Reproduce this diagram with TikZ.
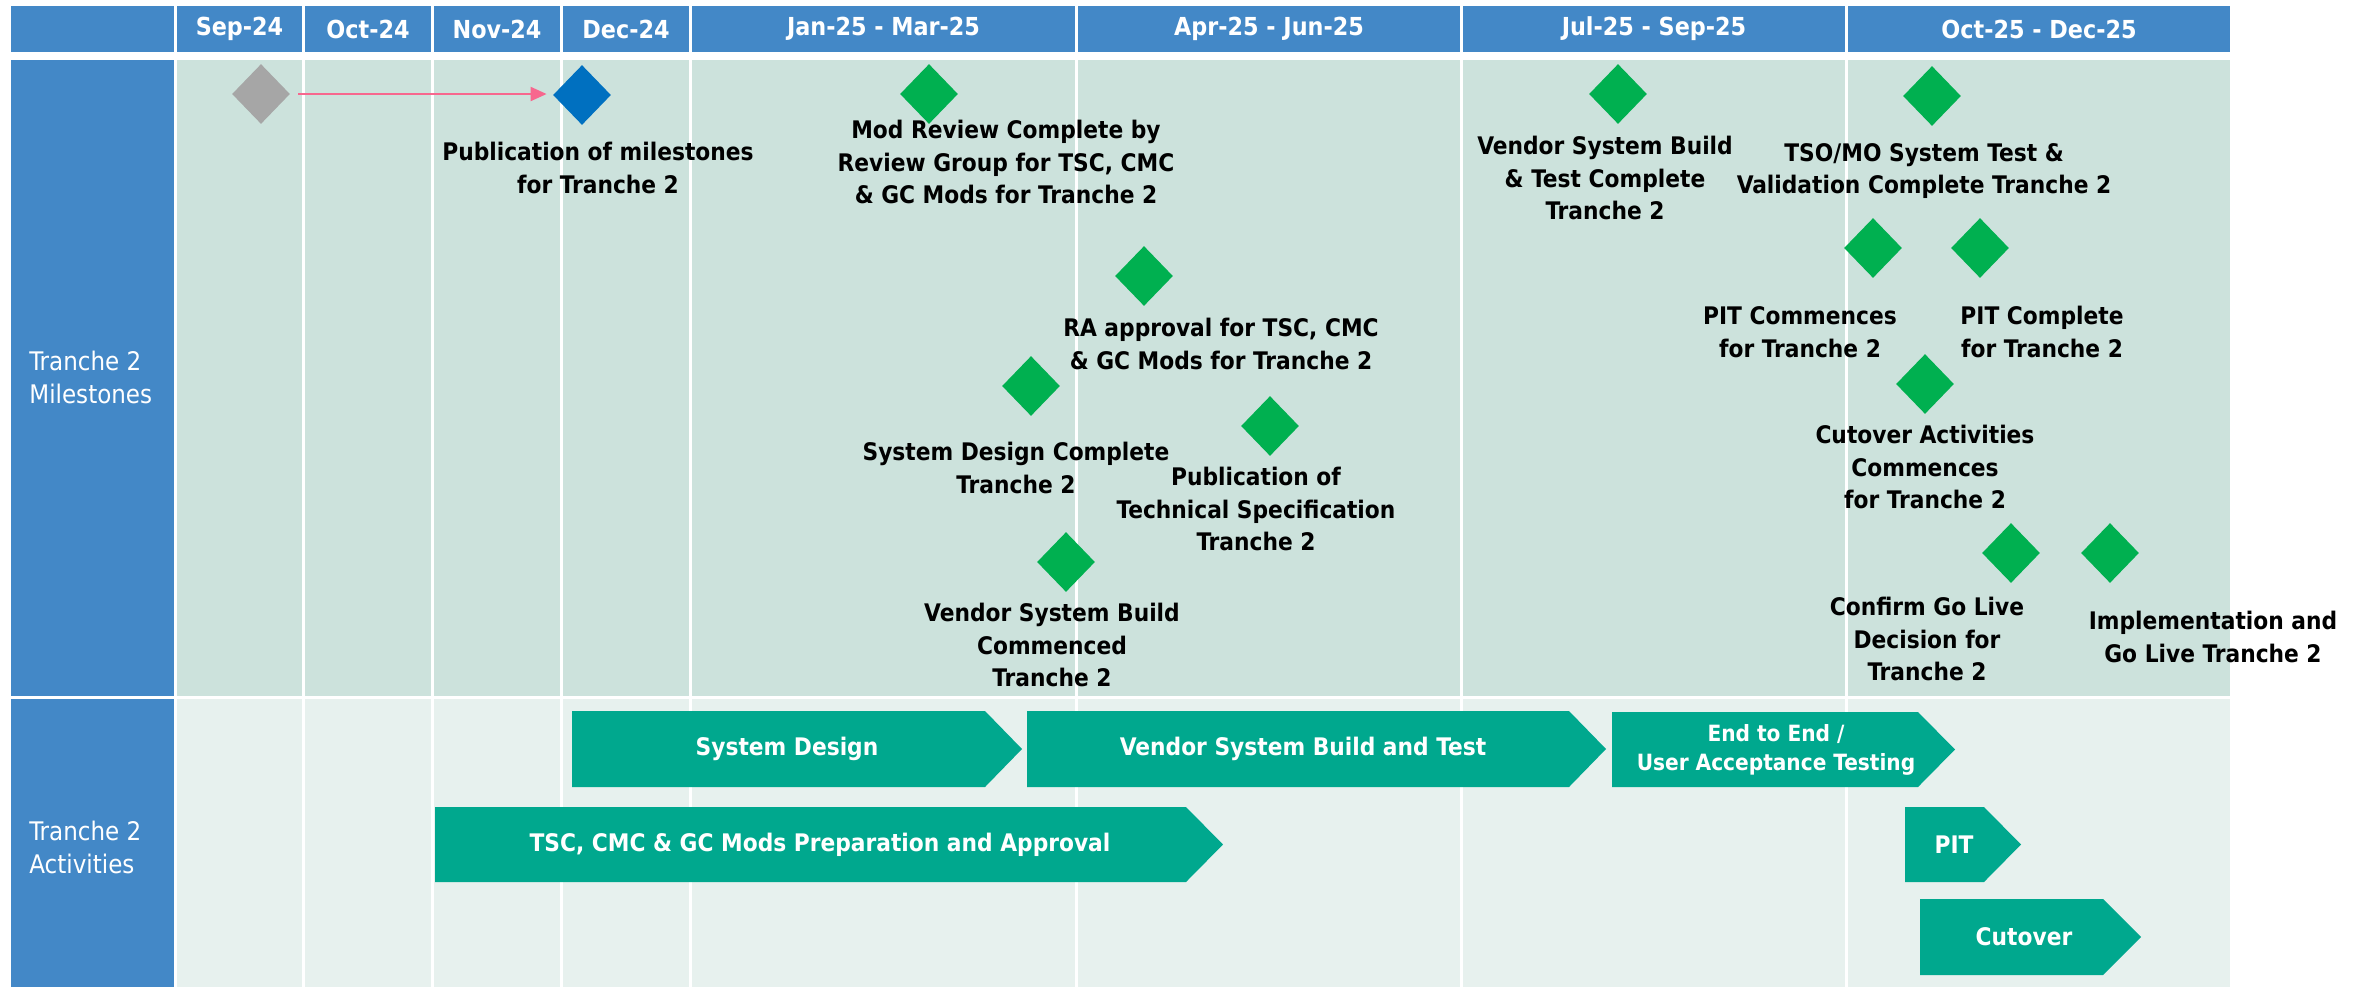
\documentclass[tikz,border=0pt]{standalone}
\usepackage{fontspec}
\setmainfont{DejaVu Sans Condensed}
\usetikzlibrary{shapes.geometric,arrows.meta}
\definecolor{hdrblue}{HTML}{4388C7}
\definecolor{msbg}{HTML}{CCE2DC}
\definecolor{acbg}{HTML}{E7F1EE}
\definecolor{teal}{HTML}{00A88E}
\definecolor{msgreen}{HTML}{00B050}
\definecolor{msblue}{HTML}{0070C0}
\definecolor{msgray}{HTML}{A6A6A6}
\definecolor{pinkline}{HTML}{F7678E}
\begin{document}
\begin{tikzpicture}[x=0.5pt,y=-0.5pt,
  txt/.style={font=\bfseries\fontsize{12.1}{16.3}\selectfont, align=center, inner sep=0pt},
  hdr/.style={fill=hdrblue, text=white, font=\bfseries\fontsize{12.4}{14}\selectfont, inner sep=0pt, outer sep=0pt, minimum height=23pt},
  side/.style={text=white, font=\fontsize{12.8}{16.5}\selectfont, align=left, inner sep=0pt, anchor=west},
  ms/.style={diamond, fill=msgreen, minimum width=29pt, minimum height=30pt, inner sep=0pt},
  acttxt/.style={txt, text=white},
  chev/.style={fill=teal}
]
\useasboundingbox (0,0) rectangle (2367,987);
% header
\node[hdr, minimum width=81.5pt] (h0) at (92.5,29) {};
\node[hdr, minimum width=62.5pt] (h1) at (239.5,29) {Sep-24};
\node[hdr, minimum width=63pt] (h2) at (368,29) {Oct-24};
\node[hdr, minimum width=63pt] (h3) at (497,29) {Nov-24};
\node[hdr, minimum width=63pt] (h4) at (626,29) {Dec-24};
\node[hdr, minimum width=191.5pt] (h5) at (883.5,29) {Jan-25 - Mar-25};
\node[hdr, minimum width=191pt] (h6) at (1269,29) {Apr-25 - Jun-25};
\node[hdr, minimum width=191pt] (h7) at (1654,29) {Jul-25 - Sep-25};
\node[hdr, minimum width=191pt] (h8) at (2039,29) {Oct-25 - Dec-25};
% body cells
\foreach \a/\b in {177/302,305/431,434/560,563/689,692/1075,1078/1460,1463/1845,1848/2230}{
  \fill[msbg] (\a,60) rectangle (\b,696);
  \fill[acbg] (\a,699) rectangle (\b,987);
}
\fill[hdrblue] (11,60) rectangle (174,696);
\fill[hdrblue] (11,699) rectangle (174,987);
\node[side] (lms) at (29,377) {Tranche 2\\Milestones};
\node[side] (lac) at (29,847) {Tranche 2\\Activities};
% milestones
\node[ms, fill=msgray] (d0) at (261,94) {};
\node[ms, fill=msblue] (d1) at (582,95) {};
\draw[pinkline, line width=1pt, shorten <=4pt, shorten >=3pt, -{Triangle[length=8pt,width=7pt]}] (d0.east) -- (d0.east -| d1.west);
\node[txt] (t1) at (598,168) {Publication of milestones\\for Tranche 2};
\node[ms] (d2) at (929,94) {};
\node[txt] (t2) at (1006,162) {Mod Review Complete by\\Review Group for TSC, CMC\\\& GC Mods for Tranche 2};
\node[ms] (d3) at (1618,94) {};
\node[txt] (t3) at (1605,178) {Vendor System Build\\\& Test Complete\\Tranche 2};
\node[ms] (d4) at (1932,96) {};
\node[txt] (t4) at (1924,171) {TSO/MO System Test \&\\Validation Complete Tranche 2};
\node[ms] (d5) at (1144,276) {};
\node[txt] (t5) at (1221,344) {RA approval for TSC, CMC\\\& GC Mods for Tranche 2};
\node[ms] (d6) at (1031,386) {};
\node[txt] (t6) at (1016,468) {System Design Complete\\Tranche 2};
\node[ms] (d7) at (1270,426) {};
\node[txt] (t7) at (1256,509) {Publication of\\Technical Specification\\Tranche 2};
\node[ms] (d8) at (1066,562) {};
\node[txt] (t8) at (1052,645) {Vendor System Build\\Commenced\\Tranche 2};
\node[ms] (d9) at (1873,248) {};
\node[txt] (t9) at (1800,332) {PIT Commences\\for Tranche 2};
\node[ms] (d10) at (1980,248) {};
\node[txt] (t10) at (2042,332) {PIT Complete\\for Tranche 2};
\node[ms] (d11) at (1925,384) {};
\node[txt] (t11) at (1925,467) {Cutover Activities\\Commences\\for Tranche 2};
\node[ms] (d12) at (2011,553) {};
\node[txt] (t12) at (1927,639) {Confirm Go Live\\Decision for\\Tranche 2};
\node[ms] (d13) at (2110,553) {};
\node[txt] (t13) at (2213,637) {Implementation and\\Go Live Tranche 2};
% activities
\fill[chev] (572,711) -- (985,711) -- (1022,749) -- (985,787) -- (572,787) -- cycle;
\node[acttxt] (a1) at (787,749) {System Design};
\fill[chev] (1027,711) -- (1569,711) -- (1606,749) -- (1569,787) -- (1027,787) -- cycle;
\node[acttxt] (a2) at (1303,749) {Vendor System Build and Test};
\fill[chev] (1612,712) -- (1918,712) -- (1955,749.5) -- (1918,787) -- (1612,787) -- cycle;
\node[acttxt, font=\bfseries\fontsize{11.2}{14.8}\selectfont] (a3) at (1776,750) {End to End /\\User Acceptance Testing};
\fill[chev] (435,807) -- (1186,807) -- (1223,844.5) -- (1186,882) -- (435,882) -- cycle;
\node[acttxt] (a4) at (820,845) {TSC, CMC \& GC Mods Preparation and Approval};
\fill[chev] (1905,807) -- (1984,807) -- (2021,844.5) -- (1984,882) -- (1905,882) -- cycle;
\node[acttxt] (a5) at (1954,845) {PIT};
\fill[chev] (1920,899) -- (2103,899) -- (2141,937) -- (2103,975) -- (1920,975) -- cycle;
\node[acttxt] (a6) at (2024,937) {Cutover};
\end{tikzpicture}
\end{document}
